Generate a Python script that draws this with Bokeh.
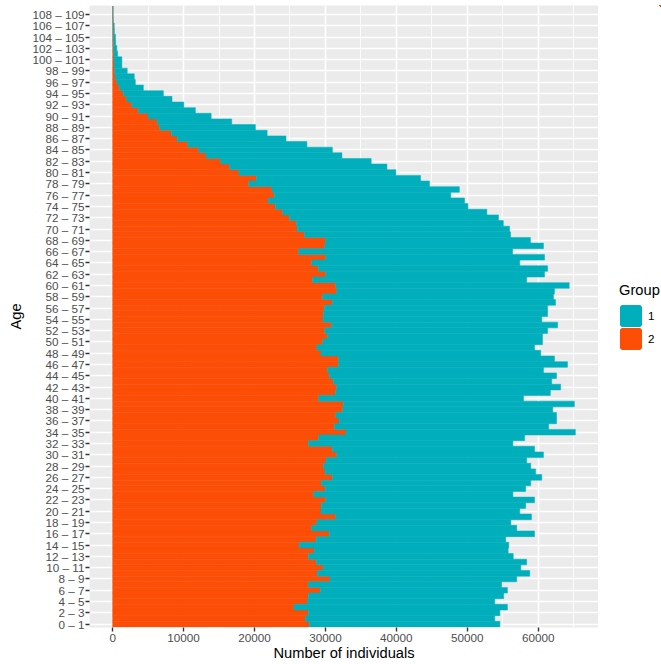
from bokeh.plotting import figure
from bokeh.layouts import row
from bokeh.models import (ColumnDataSource, FixedTicker, SingleIntervalTicker,
                          Range1d, Legend, LegendItem)
from bokeh.embed import file_html
from bokeh.resources import INLINE

# ---- data -------------------------------------------------------------
ages = list(range(110))                      # age class start (0 -> "0 – 1")
age_labels = [f"{a} \u2013 {a + 1}" for a in ages]
label_ages = ages[::2]                       # every other class labelled

group1 = [26870, 26670, 27010, 30100, 26380, 27540, 26380, 27250, 26330, 29960,
          27880, 29670, 28890, 27350, 29520, 26720, 28940, 28900, 27340, 27590,
          28020, 28800, 29420, 28070, 28270, 29520, 29520, 29670, 29230, 28270,
          29130, 28500, 28840, 29040, 32330, 30200, 30640, 31120, 29620, 32580,
          28890, 30300, 31550, 30780, 31990, 30440, 32280, 30440, 30970, 30680,
          30980, 30300, 31410, 31850, 30830, 31600, 31460, 31460, 32530, 30680,
          32910, 30200, 30830, 32330, 29330, 30830, 30160, 30830, 28840, 29040,
          29910, 29190, 29470, 28800, 27150, 27680, 24870, 26420, 25500, 23130,
          22120, 22170, 21200, 19170, 18830, 16790, 15340, 13500, 13500, 10500,
          8900, 8030, 7330, 6370, 5650, 3330, 2600, 2700, 1810, 1100,
          1120, 560, 470, 320, 310, 170, 160, 10, 0, 0]

group2 = [27730, 27200, 27590, 25560, 27490, 27590, 29280, 27590, 30640, 28850,
          29670, 28700, 27590, 28410, 26330, 28700, 30540, 28070, 28800, 31460,
          29380, 29430, 30060, 28360, 29960, 29430, 30980, 29960, 29720, 30100,
          31610, 30980, 27590, 29040, 32910, 31270, 31940, 31460, 32430, 32520,
          29040, 31410, 31610, 31120, 30590, 30300, 31850, 31850, 29380, 28800,
          29620, 30300, 29910, 30880, 29670, 29720, 29860, 30980, 29620, 31610,
          31460, 28170, 30060, 28990, 28070, 30060, 26230, 29910, 30060, 27060,
          26040, 25890, 24930, 23960, 22940, 21930, 22800, 22460, 19170, 20280,
          17810, 16500, 15250, 13160, 12150, 10600, 9100, 8280, 6630, 6290,
          4990, 3630, 2700, 2000, 1500, 1000, 600, 350, 250, 200,
          180, 150, 120, 100, 90, 80, 70, 60, 50, 50]

group_names = ["1", "2"]
colors = ["#00AFBB", "#FC4E07"]

# ---- stacking ---------------------------------------------------------
totals = [a + b for a, b in zip(group1, group2)]
src = ColumnDataSource(dict(age=ages, g2_left=[0] * len(ages), g2_right=group2,
                            g1_left=group2, g1_right=totals))

tmax = max(totals)
FONT = "Liberation Sans"

p = figure(width=598, height=664, output_backend="svg", toolbar_location=None,
           x_range=Range1d(-0.05 * tmax, 1.05 * tmax),
           y_range=Range1d(-0.6, len(ages) - 0.4),
           min_border_left=89, min_border_right=0,
           min_border_top=5, min_border_bottom=37)

p.background_fill_color = "#EBEBEB"
p.border_fill_color = "white"
p.outline_line_color = None

r2 = p.hbar(y="age", left="g2_left", right="g2_right", height=1.0, source=src,
            fill_color=colors[1], line_color=colors[1], line_width=0.5)
r1 = p.hbar(y="age", left="g1_left", right="g1_right", height=1.0, source=src,
            fill_color=colors[0], line_color=colors[0], line_width=0.5)

# ---- axes -------------------------------------------------------------
xt = SingleIntervalTicker(interval=10000, num_minor_ticks=2)
p.xaxis.ticker = xt
p.xgrid.ticker = xt
p.yaxis.ticker = FixedTicker(ticks=label_ages)
p.ygrid.ticker = FixedTicker(ticks=label_ages)
p.yaxis.major_label_overrides = {a: age_labels[a] for a in label_ages}

for ax in (p.xaxis[0], p.yaxis[0]):
    ax.axis_line_color = None
    ax.major_tick_line_color = "#333333"
    ax.major_tick_line_width = 1.4
    ax.major_tick_out = 4
    ax.major_tick_in = 0
    ax.minor_tick_line_color = None
    ax.major_label_text_font = FONT
    ax.major_label_text_font_size = "11.7px"
    ax.major_label_text_color = "#4D4D4D"
    ax.axis_label_text_font = FONT
    ax.axis_label_text_font_size = "14.7px"
    ax.axis_label_text_font_style = "normal"
    ax.axis_label_text_color = "black"

p.xaxis.axis_label = "Number of individuals"
p.yaxis.axis_label = "Age"
p.xaxis.major_label_standoff = 2
p.xaxis.axis_label_standoff = 0
p.yaxis.major_label_standoff = 1
p.yaxis.axis_label_standoff = 6

p.xgrid.grid_line_color = "white"
p.xgrid.grid_line_width = 1.6
p.xgrid.minor_grid_line_color = "white"
p.xgrid.minor_grid_line_width = 0.8
p.ygrid.grid_line_color = "white"
p.ygrid.grid_line_width = 1.6

# ---- legend panel (separate small figure at the right) ----------------
# The same bars are drawn here with ranges far away from every bar, so only
# the legend keys are visible.
lg = figure(width=63, height=664, output_backend="svg", toolbar_location=None,
            x_axis_type=None, y_axis_type=None,
            x_range=Range1d(-3e6, -2e6), y_range=Range1d(-3000, -2000),
            min_border_left=0, min_border_right=0,
            min_border_top=0, min_border_bottom=0)
lg.outline_line_color = None
lg.background_fill_color = "white"
lg.border_fill_color = "white"
lg.xgrid.visible = False
lg.ygrid.visible = False

k1 = lg.hbar(y="age", left="g1_left", right="g1_right", height=1, source=src,
             fill_color=colors[0], line_color=colors[0], line_width=3.6)
k2 = lg.hbar(y="age", left="g2_left", right="g2_right", height=1, source=src,
             fill_color=colors[1], line_color=colors[1], line_width=3.6)

legend = Legend(items=[LegendItem(label=group_names[0], renderers=[k1]),
                       LegendItem(label=group_names[1], renderers=[k2])],
                location=(21, 277), orientation="vertical",
                title="Group", title_text_font=FONT, title_text_font_size="14.7px",
                title_text_font_style="normal", title_text_color="black",
                title_standoff=6,
                label_text_font=FONT, label_text_font_size="11.7px",
                label_text_color="black", label_standoff=6,
                glyph_width=23, glyph_height=23, label_height=23, label_width=10,
                spacing=0, padding=0, margin=0,
                border_line_color=None, background_fill_alpha=0)
lg.add_layout(legend)

layout = row(p, lg, spacing=0)
open("out.html", "w").write(file_html(layout, INLINE))
